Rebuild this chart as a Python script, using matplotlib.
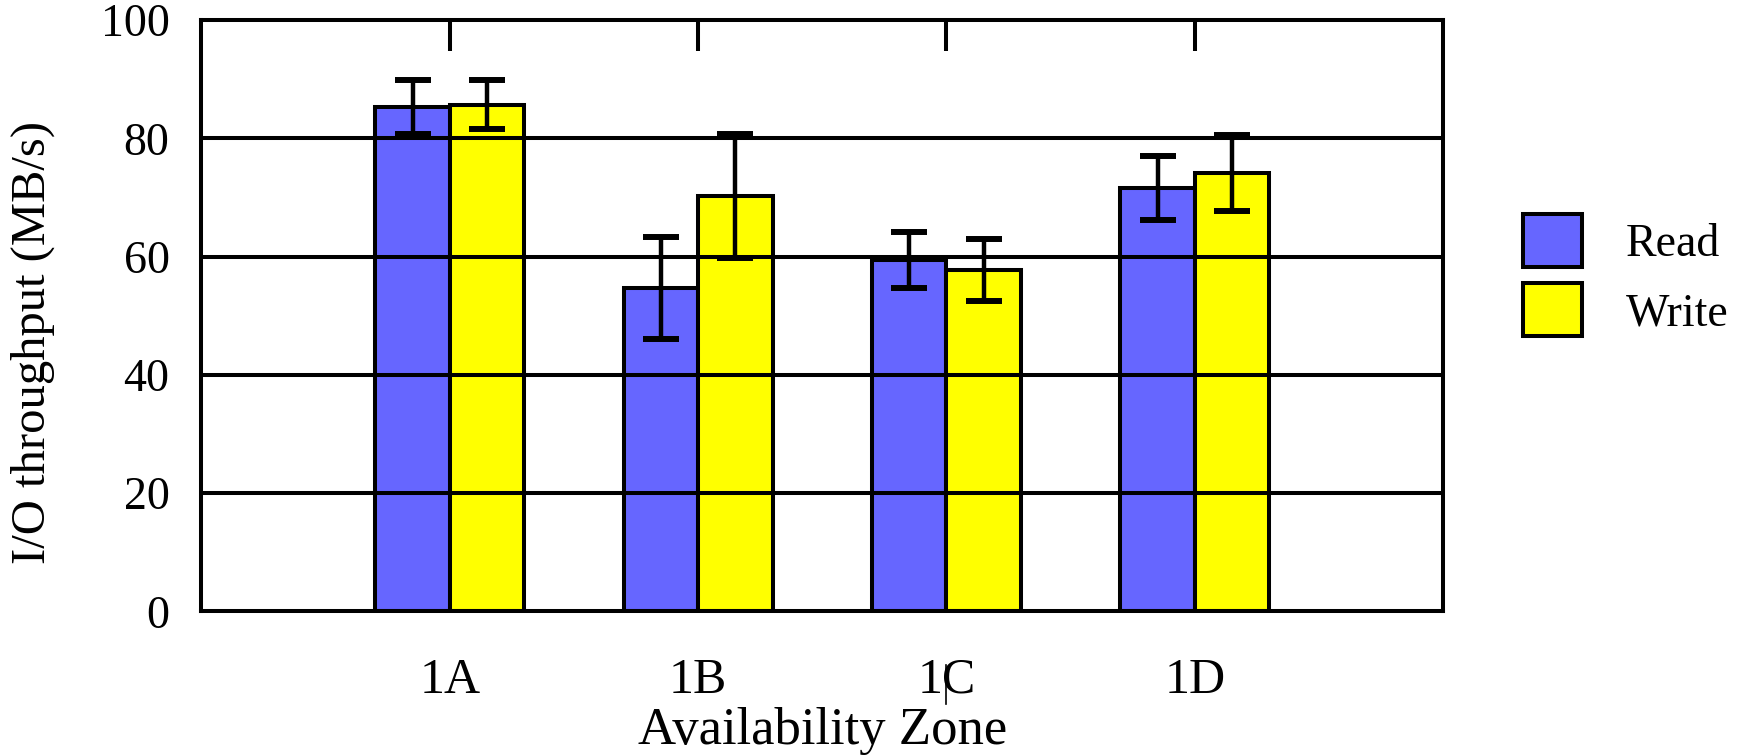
import numpy as np
import matplotlib
matplotlib.use("Agg")
import matplotlib.pyplot as plt
import matplotlib.transforms as mtransforms

# I/O throughput per availability zone
zones = ["1A", "1B", "1C", "1D"]
read_mbs = [85.3, 54.7, 59.4, 71.6]
read_err = [4.5, 8.6, 4.8, 5.4]
write_mbs = [85.7, 70.2, 57.7, 74.1]
write_err = [4.2, 10.5, 5.2, 6.4]

plt.rcParams['font.family'] = ['Liberation Serif', 'DejaVu Serif']

fig = plt.figure(figsize=(17.46, 7.55), dpi=100)
ax = fig.add_axes([0.1154, 0.1903, 0.7111, 0.7832])

x = np.arange(1, len(zones) + 1)
width = 0.3
lw = 2.9

ax.bar(x - width / 2, read_mbs, width, color="#6666ff", edgecolor="black",
       linewidth=lw, label="Read", zorder=1)
ax.bar(x + width / 2, write_mbs, width, color="#ffff00", edgecolor="black",
       linewidth=lw, label="Write", zorder=1)

# gridlines sit on top of the bars
for yv in [20, 40, 60, 80]:
    ax.axhline(yv, color="black", linewidth=lw, zorder=2)

err_kw = dict(fmt="none", ecolor="black", elinewidth=3.2, capsize=13,
              capthick=4.3, zorder=3)
ax.errorbar(x - width / 2, read_mbs, yerr=read_err, **err_kw)
ax.errorbar(x + width / 2, write_mbs, yerr=write_err, **err_kw)

ax.set_xlim(0, 5)
ax.set_ylim(0, 100)
ax.set_yticks([0, 20, 40, 60, 80, 100])
ax.set_xticks(x)
ax.set_xticklabels(zones)

for s in ax.spines.values():
    s.set_linewidth(lw)

ax.tick_params(axis="y", length=0, pad=23, labelsize=33)
ax.tick_params(axis="x", which="both", bottom=False, top=True, direction="in",
               length=22, width=lw, pad=33, labelsize=36)

ax.set_xlabel("Availability Zone", fontsize=38)
ax.xaxis.set_label_coords(0.5, -0.162)
ax.set_ylabel("I/O throughput (MB/s)", fontsize=35)
ax.yaxis.set_label_coords(-0.118, 0.455)

# stray stroke under the 1C label
trans = mtransforms.blended_transform_factory(ax.transData, ax.transAxes)
ax.plot([3, 3], [-0.09, -0.157], color="black", linewidth=1.2,
        transform=trans, clip_on=False)

fig.legend(loc="upper left", bbox_to_anchor=(1523 / 1746, 1 - 214 / 755),
           frameon=False, fontsize=33, handlelength=1.29, handleheight=1.4,
           labelspacing=0.36, handletextpad=0.95, borderpad=0, borderaxespad=0)

fig.savefig("out.png", dpi=100)
